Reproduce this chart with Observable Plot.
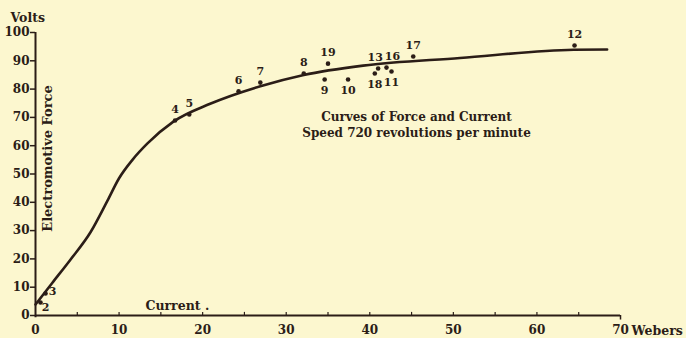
<!DOCTYPE html>
<html><head><meta charset="utf-8">
<script src="https://cdn.jsdelivr.net/npm/d3@7"></script>
<script src="https://cdn.jsdelivr.net/npm/@observablehq/plot@0.6"></script>
<style>html,body{margin:0;padding:0;background:#fcf7cf;}</style>
</head><body><div id="chart"></div>
<script>
// Smooth characteristic curve (Webers vs Volts)
const curveX = [0, 2.0, 4.2, 6.6, 8.6, 10.0, 11.6, 13.4, 16.5, 20.9, 26.9, 32.1, 39.2, 50.8, 64.4, 68.4];
const curveY = [3.9, 11.5, 19.8, 29.5, 40.5, 48.5, 55.0, 60.8, 68.5, 74.8, 81.0, 85.0, 88.3, 91.0, 93.9, 94.0];

// Observed points
const pointIds = ["2", "3", "4", "5", "6", "7", "8", "19", "9", "10", "13", "16", "18", "11", "17", "12"];
const pointX = [0.6, 1.2, 16.7, 18.4, 24.3, 26.9, 32.1, 35.0, 34.6, 37.4, 41.0, 42.0, 40.6, 42.6, 45.2, 64.5];
const pointY = [4.6, 7.8, 68.9, 71.0, 79.2, 82.3, 85.5, 89.0, 83.4, 83.4, 87.3, 87.6, 85.5, 86.2, 91.5, 95.4];

const xTicks = [0, 10, 20, 30, 40, 50, 60, 70];
const xMinorTicks = [5, 10, 15, 20, 25, 30, 35, 40, 45, 50, 55, 60, 65];
const yTicks = [0, 10, 20, 30, 40, 50, 60, 70, 80, 90, 100];

const titleLine1 = "Curves of Force and Current";
const titleLine2 = "Speed 720 revolutions per minute";
const yLabel = "Electromotive Force";
const yUnit = "Volts";
const xLabel = "Current .";
const xUnit = "Webers";

const curve = curveX.map((x, i) => ({x, y: curveY[i]}));
const points = pointIds.map((id, i) => ({id, x: pointX[i], y: pointY[i]}));

const belowIds = new Set(["9", "10", "18", "11"]);
const special = new Set(["2", "3", "13", "16"]);
const ink = "#2b1d17";
const font = "'DejaVu Serif', serif";
const lbl = {fontSize: 11, fontWeight: "bold", fill: ink};
const ann = {fontWeight: "bold", fill: ink, lineAnchor: "middle"};

const chart = Plot.plot({
  width: 686,
  height: 338,
  marginLeft: 35,
  marginRight: 66,
  marginTop: 32,
  marginBottom: 23,
  x: {domain: [0, 70]},
  y: {domain: [0, 100]},
  style: {background: "#fcf7cf", color: ink, fontFamily: font, fontWeight: "bold", fontSize: "12px"},
  marks: [
    Plot.axisY({ticks: yTicks, tickSize: 5, tickPadding: 1, label: null, fontSize: 12, stroke: ink, strokeWidth: 1.5}),
    Plot.axisX({ticks: xTicks, tickSize: 0, tickPadding: 10, label: null, fontSize: 12}),
    Plot.ruleX(xMinorTicks, {x: d => d, y1: 0, y2: 1.1, stroke: ink, strokeWidth: 1.2}),
    Plot.ruleX([70], {y1: 0, y2: -1.6, stroke: ink, strokeWidth: 1.5}),
    Plot.ruleY([0], {stroke: ink, strokeWidth: 2}),
    Plot.ruleX([0], {y1: -0.8, y2: 100, stroke: ink, strokeWidth: 2}),
    Plot.line(curve, {x: "x", y: "y", curve: "monotone-x", stroke: ink, strokeWidth: 2.6}),
    Plot.dot(points, {x: "x", y: "y", r: 2.3, fill: ink, stroke: "none"}),
    Plot.text(points.filter(d => !belowIds.has(d.id) && !special.has(d.id)),
      {x: "x", y: "y", text: "id", dy: -11, ...lbl}),
    Plot.text(points.filter(d => d.id === "13"),
      {x: "x", y: "y", text: "id", dy: -11, dx: -3, ...lbl}),
    Plot.text(points.filter(d => d.id === "16"),
      {x: "x", y: "y", text: "id", dy: -11, dx: 6, ...lbl}),
    Plot.text(points.filter(d => belowIds.has(d.id)),
      {x: "x", y: "y", text: "id", dy: 11, ...lbl}),
    Plot.text(points.filter(d => d.id === "2"),
      {x: "x", y: "y", text: "id", dx: 5, dy: 5, ...lbl}),
    Plot.text(points.filter(d => d.id === "3"),
      {x: "x", y: "y", text: "id", dx: 7, dy: -2, ...lbl}),
    Plot.text([titleLine1], {frameAnchor: "top-left", dx: 381, dy: 85, textAnchor: "middle", fontSize: 12, ...ann}),
    Plot.text([titleLine2], {frameAnchor: "top-left", dx: 381, dy: 101, textAnchor: "middle", fontSize: 12, ...ann}),
    Plot.text([yLabel], {frameAnchor: "top-left", dx: 12, dy: 126, rotate: -90, textAnchor: "middle", fontSize: 13, ...ann}),
    Plot.text([yUnit], {frameAnchor: "top-left", dx: -25, dy: -15, textAnchor: "start", fontSize: 12.5, ...ann}),
    Plot.text([xLabel], {frameAnchor: "bottom-left", dx: 110, dy: -10, textAnchor: "start", fontSize: 12.5, ...ann}),
    Plot.text([xUnit], {frameAnchor: "bottom-right", dx: 11, dy: 15, textAnchor: "start", fontSize: 12.5, ...ann})
  ]
});
document.getElementById("chart").append(chart);
</script>
</body></html>
